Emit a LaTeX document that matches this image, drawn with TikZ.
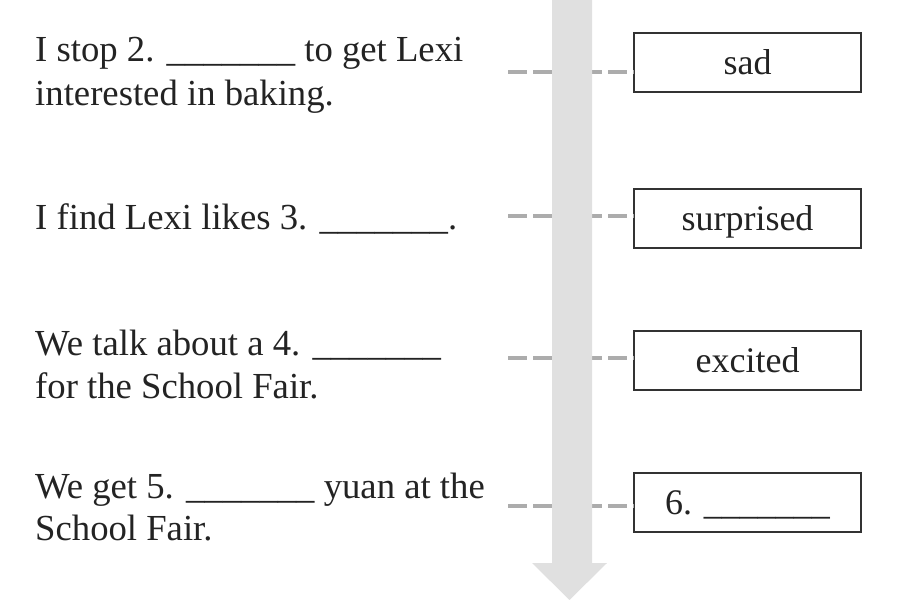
\documentclass[tikz,border=0pt]{standalone}
\usepackage{fontspec}
\setmainfont{Liberation Serif}
\definecolor{inkc}{RGB}{35,35,35}
\definecolor{dashc}{RGB}{172,172,172}
\definecolor{arrowc}{RGB}{224,224,224}
\definecolor{boxc}{RGB}{50,50,50}
\newcommand{\blank}{\_\_\_\_\_\_\_}
\begin{document}
\begin{tikzpicture}[x=1pt,y=-1pt,
  txt/.style={anchor=base west,inner sep=0pt,font=\fontsize{36.7}{44}\selectfont,text=inkc},
  answer/.style={draw=boxc,line width=1.2pt,minimum width=227pt,minimum height=59pt,
    inner sep=0pt,text height=24pt,text depth=0pt,font=\fontsize{36}{44}\selectfont,text=inkc},
  link/.style={draw=dashc,line width=4pt,dash pattern=on 19pt off 6pt},
  bigarrow/.style={fill=arrowc,draw=none}]
\useasboundingbox (0,0) rectangle (920,609);
% left texts
\node[txt] (t1) at (35,62) {I stop 2. \blank{} to get Lexi};
\node[txt] (t1b) at (35,106) {interested in baking.};
\node[txt] (t2) at (35,230) {I find Lexi likes 3. \blank.};
\node[txt] (t3) at (35,355) {We talk about a 4. \blank};
\node[txt] (t3b) at (35,398) {for the School Fair.};
\node[txt] (t4) at (35,498) {We get 5. \blank{} yuan at the};
\node[txt] (t4b) at (35,540) {School Fair.};
% answer boxes
\node[answer] (b1) at (747.5,62.5) {sad};
\node[answer] (b2) at (747.5,218.5) {surprised};
\node[answer] (b3) at (747.5,360.5) {excited};
\node[answer] (b4) at (747.5,502.5) {6. \blank};
% dashed connectors
\coordinate (d1) at (508,72);
\coordinate (d2) at (508,216);
\coordinate (d3) at (508,358);
\coordinate (d4) at (508,506);
\draw[link] (d1) -- (d1 -| b1.west);
\draw[link] (d2) -- (d2 -| b2.west);
\draw[link] (d3) -- (d3 -| b3.west);
\draw[link] (d4) -- (d4 -| b4.west);
% big arrow
\path[bigarrow] (552,-2) -- (552,563) -- (532,563) -- (569.5,600) -- (607,563) -- (592,563) -- (592,-2) -- cycle;
\end{tikzpicture}
\end{document}
